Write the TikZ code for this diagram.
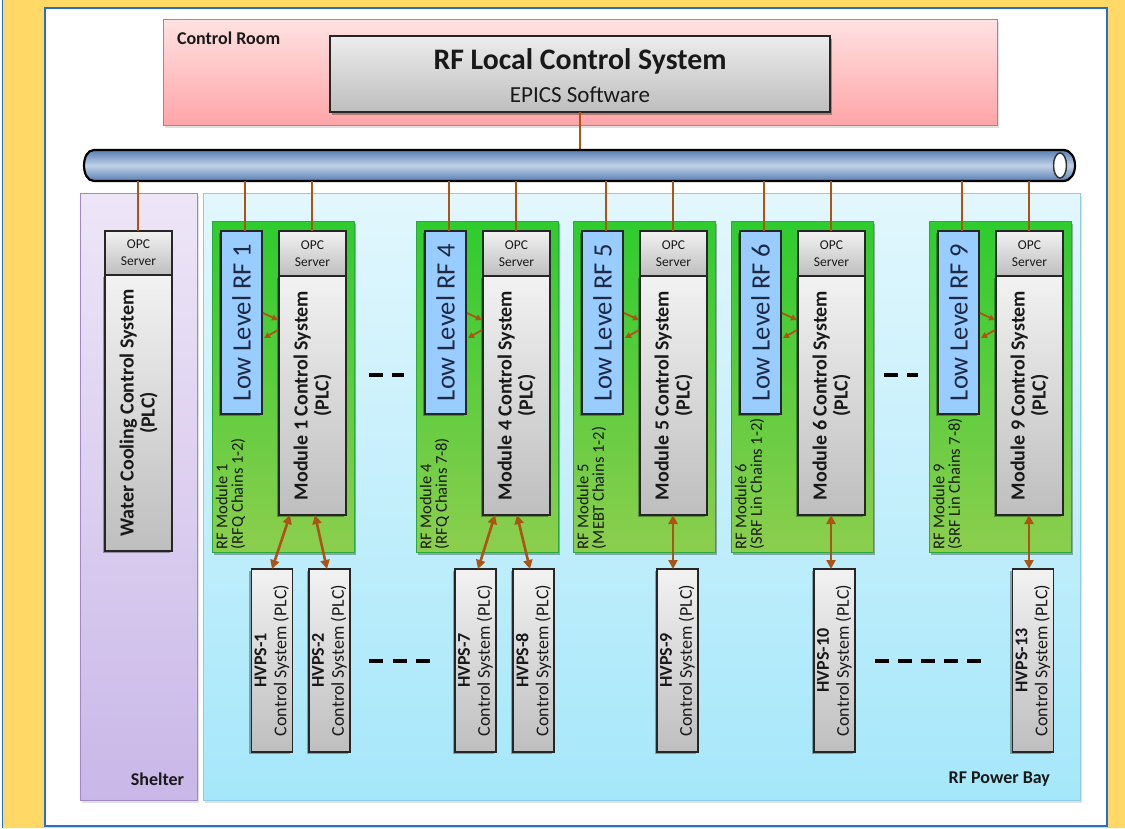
\documentclass[tikz,border=0pt]{standalone}
\usepackage{fontspec}
\setmainfont{Carlito}
\usetikzlibrary{arrows.meta,calc,shadows}
\definecolor{bgY}{RGB}{255,216,102}
\definecolor{panelB}{RGB}{40,110,200}
\definecolor{crTop}{RGB}{255,226,226}
\definecolor{crBot}{RGB}{255,165,168}
\definecolor{crLine}{RGB}{205,120,120}
\definecolor{gLight}{RGB}{242,242,242}
\definecolor{gDark}{RGB}{190,190,190}
\definecolor{busDark}{RGB}{88,126,180}
\definecolor{busLight}{RGB}{192,210,232}
\definecolor{shTop}{RGB}{238,230,247}
\definecolor{shBot}{RGB}{201,183,232}
\definecolor{shLine}{RGB}{160,135,200}
\definecolor{pbTop}{RGB}{226,247,253}
\definecolor{pbBot}{RGB}{165,231,250}
\definecolor{pbLine}{RGB}{140,205,225}
\definecolor{grTop}{RGB}{46,204,46}
\definecolor{grBot}{RGB}{140,206,78}
\definecolor{grLine}{RGB}{40,170,60}
\definecolor{llBlue}{RGB}{153,204,255}
\definecolor{llText}{RGB}{30,42,68}
\definecolor{brn}{RGB}{172,84,20}
\definecolor{txt}{RGB}{25,25,25}

\newcommand\RFmod[3]{%
  \node[greenbox, minimum width=142pt, minimum height=331pt] (m#2) at ({283+#1},386.5) {};
  \node[llrf, rotate=90, minimum width=183pt, minimum height=41pt] (ll#2) at ({241.5+#1},322.5) {Low Level RF #2};
  \node[opc, minimum width=67pt, minimum height=45pt] (opc#2) at ({312.5+#1},253.5) {OPC\\Server};
  \node[hgray, rshadow, ctltext, rotate=90, minimum width=239pt, minimum height=67pt] (ctl#2) at ({312.5+#1},395.5) {Module #2 Control System\\(PLC)};
  \node[modlab, rotate=90, anchor=north west] (lab#2) at ({216+#1},549) {RF Module #2\\(#3)};
  \draw[link] ($(ll#2.east)+(3.5,0)$) -- ($(ll#2.east |- busB)+(3.5,0)$);
  \draw[link] ($(opc#2.north)+(-0.5,0)$) -- ($(opc#2.north |- busB)+(-0.5,0)$);
  \draw[smallarrow] ($(ll#2.south)+(1,-9.5)$) -- ($(ctl#2.north)+(-1,-75.5)$);
  \draw[smallarrow] ($(ctl#2.north)+(-1,-65.5)$) -- ($(ll#2.south)+(2,15.5)$);
}

\begin{document}
\begin{tikzpicture}[x=1pt, y=-1pt,
  every node/.style={inner sep=0pt, outer sep=0pt, text=txt},
  graybox/.style={draw=black!85, line width=1.1pt},
  hgray/.style={graybox, top color=gLight, bottom color=gDark},
  ushadow/.style={drop shadow={shadow xshift=2pt, shadow yshift=-2.5pt, opacity=0.3, fill=black}},
  rshadow/.style={drop shadow={shadow xshift=-2.5pt, shadow yshift=-2pt, opacity=0.3, fill=black}},
  llrf/.style={draw=black!85, line width=1.1pt, fill=llBlue, text=llText, font=\fontsize{26.5}{28}\selectfont, rshadow},
  ctltext/.style={font=\fontsize{20}{21}\selectfont\bfseries, align=center},
  opc/.style={hgray, font=\fontsize{13.5}{17}\selectfont, align=center},
  hvps/.style={hgray, rshadow, font=\fontsize{18}{20}\selectfont, align=center},
  modlab/.style={font=\fontsize{16.5}{15.5}\selectfont, align=left},
  greenbox/.style={draw=grLine, line width=1pt, top color=grTop, bottom color=grBot, ushadow},
  link/.style={draw=brn, line width=1.8pt},
  biarrow/.style={draw=brn, line width=2.6pt, {Triangle[length=9pt,width=9pt]}-{Triangle[length=9pt,width=9pt]}},
  smallarrow/.style={draw=brn, line width=1.8pt, -{Triangle[length=6pt,width=6pt]}},
  arealab/.style={font=\fontsize{18}{20}\selectfont\bfseries},
  dashmark/.style={line width=3.2pt, draw=black}
]
\useasboundingbox (0,0) rectangle (1125,828);
% background
\fill[bgY] (0,0) rectangle (1125,828);
\fill[white] (0,0) rectangle (2,828);
\draw[panelB, line width=1.5pt] (2.5,0) -- (2.5,828);
\draw[panelB, line width=2pt, fill=white] (45,8) rectangle (1107,826);

% areas
\node[draw=crLine, line width=1pt, top color=crTop, bottom color=crBot, minimum width=834pt, minimum height=106pt, drop shadow={shadow xshift=2pt, shadow yshift=-3pt, opacity=0.12, fill=black}] (cr) at (580,72) {};
\node[arealab, anchor=west] (crlab) at (177,38) {Control Room};
\node[draw=shLine, line width=1pt, top color=shTop, bottom color=shBot, minimum width=117pt, minimum height=607pt, drop shadow={shadow xshift=2pt, shadow yshift=-3pt, opacity=0.12, fill=black}] (shelter) at (138.5,496.5) {};
\node[draw=pbLine, line width=1pt, top color=pbTop, bottom color=pbBot, minimum width=877pt, minimum height=607pt, drop shadow={shadow xshift=2pt, shadow yshift=-3pt, opacity=0.12, fill=black}] (bay) at (641.5,496.5) {};
\node[arealab, anchor=east] (shlab) at (184,779) {Shelter};
\node[arealab, anchor=east] (pblab) at (1050,779) {RF Power Bay};

% main control system
\node[graybox, ushadow, top color=gLight!95!gray, bottom color=gDark, minimum width=500pt, minimum height=76pt] (lcs) at (580,74) {};
\node[font=\fontsize{29.8}{32}\selectfont\bfseries] (lcsT) at (580,61) {RF Local Control System};
\node[font=\fontsize{23}{24}\selectfont] (lcsS) at (580,95) {EPICS Software};

% bus
\coordinate (busT) at (0,150);
\coordinate (busB) at (0,181);
\draw[link] (lcs.south) -- (lcs.south |- busT);
\path[draw=black, line width=2.2pt, top color=busDark, bottom color=busDark, middle color=busLight]
  (1063,150) -- (94,150) .. controls (80.7,150) and (80.7,181) .. (94,181) -- (1063,181)
  .. controls (1079,181) and (1079,150) .. (1063,150) -- cycle;
\draw[black!80, line width=1.5pt, fill=white] (1060,165.5) ellipse [x radius=6.5, y radius=12.5];

% water cooling
\node[opc, minimum width=67pt, minimum height=44pt] (wopc) at (138.5,253) {OPC\\Server};
\node[hgray, rshadow, ctltext, rotate=90, minimum width=276pt, minimum height=67pt] (wcs) at (138.5,413) {Water Cooling Control System\\(PLC)};
\draw[link] ($(wopc.north)+(-0.5,0)$) -- ($(wopc.north |- busB)+(-0.5,0)$);

% RF modules
\RFmod{0}{1}{RFQ Chains 1-2}
\RFmod{204}{4}{RFQ Chains 7-8}
\RFmod{361}{5}{MEBT Chains 1-2}
\RFmod{519}{6}{SRF Lin Chains 1-2}
\RFmod{717}{9}{SRF Lin Chains 7-8}

% HVPS
\node[hvps, rotate=90, minimum width=183pt, minimum height=41pt] (hv1) at (272,660.5) {\textbf{HVPS-1}\\Control System (PLC)};
\node[hvps, rotate=90, minimum width=183pt, minimum height=41pt] (hv2) at (329.5,660.5) {\textbf{HVPS-2}\\Control System (PLC)};
\node[hvps, rotate=90, minimum width=183pt, minimum height=41pt] (hv7) at (475.5,660.5) {\textbf{HVPS-7}\\Control System (PLC)};
\node[hvps, rotate=90, minimum width=183pt, minimum height=41pt] (hv8) at (533.5,660.5) {\textbf{HVPS-8}\\Control System (PLC)};
\node[hvps, rotate=90, minimum width=183pt, minimum height=41pt] (hv9) at (677.5,660.5) {\textbf{HVPS-9}\\Control System (PLC)};
\node[hvps, rotate=90, minimum width=183pt, minimum height=41pt] (hv10) at (834.5,660.5) {\textbf{HVPS-10}\\Control System (PLC)};
\node[hvps, rotate=90, minimum width=183pt, minimum height=41pt] (hv13) at (1033,660.5) {\textbf{HVPS-13}\\Control System (PLC)};

\draw[biarrow] ($(ctl1.west)+(-22.5,0)$) -- (hv1.east);
\draw[biarrow] ($(ctl1.west)+(2.5,0)$) -- ($(hv2.east)+(-2.5,0)$);
\draw[biarrow] ($(ctl4.west)+(-21.5,0)$) -- ($(hv7.east)+(2.5,0)$);
\draw[biarrow] ($(ctl4.west)+(0.5,0)$) -- ($(hv8.east)+(-3.5,0)$);
\draw[biarrow] ($(ctl5.west)+(-0.5,0)$) -- ($(ctl5.west |- hv9.east)+(-0.5,0)$);
\draw[biarrow] ($(ctl6.west)+(-0.5,0)$) -- ($(ctl6.west |- hv10.east)+(-0.5,0)$);
\draw[biarrow] ($(ctl9.west)+(-0.5,0)$) -- ($(ctl9.west |- hv13.east)+(-0.5,0)$);

% ellipsis dashes
\draw[dashmark, dash pattern=on 14pt off 9pt] (369,375) -- (404,375);
\draw[dashmark, dash pattern=on 14pt off 9pt] (884,375) -- (918,375);
\draw[dashmark, dash pattern=on 14pt off 9.5pt] (369,661) -- (430,661);
\draw[dashmark, dash pattern=on 14pt off 9pt] (875,661) -- (981,661);
\end{tikzpicture}
\end{document}
